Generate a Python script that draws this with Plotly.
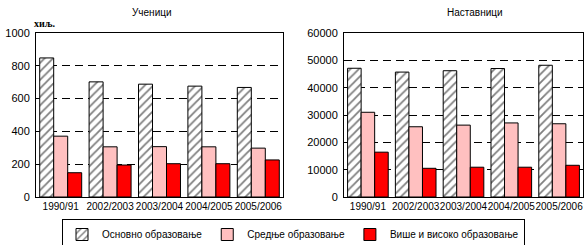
import plotly.graph_objects as go
from plotly.subplots import make_subplots

years = ["1990/91", "2002/2003", "2003/2004", "2004/2005", "2005/2006"]
series_names = ["Основно образовање", "Средње образовање", "Више и високо образовање"]

pupils_basic = [848, 702, 688, 676, 668]
pupils_secondary = [371, 306, 307, 306, 298]
pupils_higher = [148, 195, 203, 203, 226]

teachers_basic = [47100, 45700, 46200, 47000, 48200]
teachers_secondary = [31000, 25700, 26300, 27100, 26800]
teachers_higher = [16400, 10500, 10900, 10900, 11600]

pupil_ticks = [0, 200, 400, 600, 800, 1000]
teacher_ticks = [0, 10000, 20000, 30000, 40000, 50000, 60000]

titles = ["Ученици", "Наставници"]
unit_label = "хиљ."

fig = make_subplots(rows=1, cols=2)

def add_group(col, vals, show):
    b, s, h = vals
    fig.add_trace(go.Bar(x=years, y=b, name=series_names[0], showlegend=show, legendgroup="a",
                         marker=dict(color="white", line=dict(color="black", width=1),
                                     pattern=dict(shape="/", fgcolor="black", bgcolor="white", size=6, solidity=0.3))),
                  row=1, col=col)
    fig.add_trace(go.Bar(x=years, y=s, name=series_names[1], showlegend=show, legendgroup="b",
                         marker=dict(color="#ffc0c0", line=dict(color="black", width=1))),
                  row=1, col=col)
    fig.add_trace(go.Bar(x=years, y=h, name=series_names[2], showlegend=show, legendgroup="c",
                         marker=dict(color="#ff0000", line=dict(color="black", width=1))),
                  row=1, col=col)

add_group(1, (pupils_basic, pupils_secondary, pupils_higher), True)
add_group(2, (teachers_basic, teachers_secondary, teachers_higher), False)

yt = 1 - 33 / 245
yb = 1 - 197 / 245

axis_common = dict(showline=True, linecolor="black", linewidth=1, mirror=True, ticks="",
                   automargin=False,
                   tickfont=dict(family="Liberation Sans, Arial", size=11, color="black"))

fig.update_xaxes(**axis_common, showgrid=False)
fig.update_xaxes(tickangle=0, tickfont=dict(family="Liberation Sans, Arial", size=10, color="black"))
fig.update_yaxes(**axis_common, showgrid=True, gridcolor="black", gridwidth=1, griddash="8px,5px",
                 zeroline=False, tickformat="d", ticklabelstandoff=3)

fig.update_layout(
    xaxis=dict(domain=[36 / 584, 283 / 584]),
    xaxis2=dict(domain=[344 / 584, 583 / 584]),
    yaxis=dict(domain=[yb, yt], range=[0, 1000], tickvals=pupil_ticks),
    yaxis2=dict(domain=[yb, yt], range=[0, 60000], tickvals=teacher_ticks),
)

fig.add_annotation(text=titles[0], x=152 / 584, y=1 - 13 / 245, xref="paper", yref="paper",
                   xanchor="center", yanchor="middle",
                   showarrow=False, font=dict(family="Liberation Sans, Arial", size=10, color="black"))
fig.add_annotation(text=titles[1], x=475 / 584, y=1 - 13 / 245, xref="paper", yref="paper",
                   xanchor="center", yanchor="middle",
                   showarrow=False, font=dict(family="Liberation Sans, Arial", size=10, color="black"))
fig.add_annotation(text="<b>" + unit_label + "</b>", x=45 / 584, y=1 - 23 / 245, xref="paper", yref="paper",
                   xanchor="center", yanchor="middle",
                   showarrow=False, font=dict(family="Liberation Serif, Times New Roman", size=10, color="black"))

fig.update_layout(
    width=584, height=245, autosize=False,
    margin=dict(l=0, r=0, t=0, b=0, autoexpand=False),
    paper_bgcolor="white", plot_bgcolor="white",
    barmode="group", bargap=0.15, bargroupgap=0,
    legend=dict(orientation="h", x=62 / 584, y=1 - 219 / 245, xanchor="left", yanchor="top",
                bordercolor="black", borderwidth=1,
                font=dict(family="Liberation Sans, Arial", size=10, color="black")),
)

fig.write_html("out.html", config={"displayModeBar": False},
               post_script="document.body.style.margin='0px';document.body.style.padding='0px';")
